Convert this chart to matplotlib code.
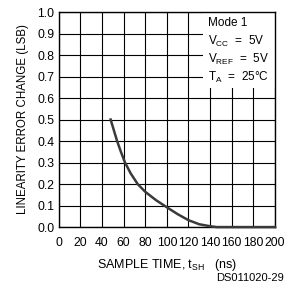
import numpy as np
import matplotlib
matplotlib.use("Agg")
import matplotlib.pyplot as plt
from matplotlib.patches import Rectangle

plt.rcParams['font.family'] = ['Liberation Sans Narrow', 'Liberation Sans', 'DejaVu Sans']

# sample time (ns) vs linearity error change (LSB)
t_sh = [48, 51, 54, 57.5, 61.3, 66.5, 73, 80, 90, 100, 110, 120, 130, 140, 146, 200]
err = [0.50, 0.45, 0.40, 0.35, 0.30, 0.25, 0.20, 0.164, 0.125, 0.092, 0.06, 0.032, 0.013, 0.004, 0.0, 0.0]

xticks = np.arange(0, 201, 20)
yticks = np.round(np.arange(0, 1.01, 0.1), 1)
notes = ["Mode 1", "V$_{\\mathregular{CC}}$  =  5V", "V$_{\\mathregular{REF}}$  =  5V", "T$_{\\mathregular{A}}$  =  25°C"]

fig = plt.figure(figsize=(2.85, 2.93), dpi=100)
ax = fig.add_axes([0.206, 0.225, 0.759, 0.734])

ax.set_xlim(0, 200)
ax.set_ylim(0, 1.0)
ax.set_xticks(xticks)
ax.set_yticks(yticks)
ax.set_yticklabels([f"{v:.1f}" for v in yticks])
ax.tick_params(length=0, labelsize=8.7)
ax.tick_params(axis="x", pad=7)
ax.tick_params(axis="y", pad=3)
ax.grid(True, color="black", linewidth=0.8)
for s in ax.spines.values():
    s.set_linewidth(1.0)

# white box for the conditions text
ax.add_patch(Rectangle((133, 0.645), 67, 0.355, facecolor="white", edgecolor="none", zorder=2))
for i, s in enumerate(notes):
    ax.text(138, 0.95 - i * 0.085, s, fontsize=8.5, va="center", ha="left", zorder=3)

ax.plot(t_sh, err, color="#3a3a3a", linewidth=1.8, zorder=4, clip_on=False)

ax.set_xlabel("SAMPLE TIME, t$_{\\mathregular{SH}}$   (ns)", fontsize=9, labelpad=6)
ax.set_ylabel("LINEARITY ERROR CHANGE (LSB)", fontsize=8.3, labelpad=6)
fig.text(0.995, 0.052, "DS011020-29", fontsize=8, ha="right", va="center")

fig.savefig("out.png", dpi=100)
